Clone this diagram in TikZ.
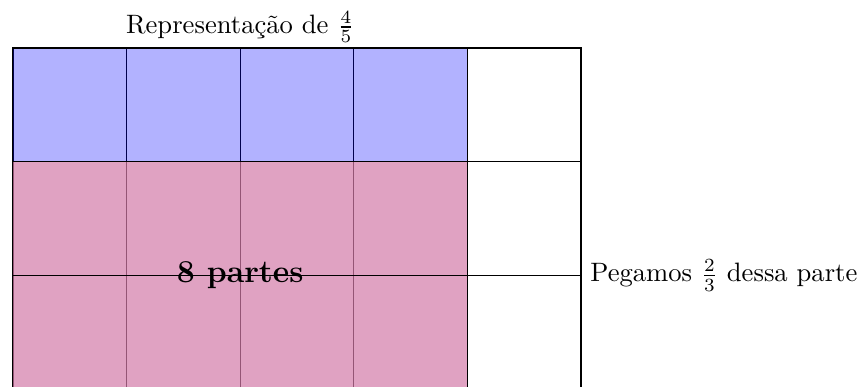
\documentclass[tikz,border=0pt]{standalone}
\definecolor{bluefill}{RGB}{0,0,255}
\definecolor{pinkfill}{RGB}{211,122,168}
\tikzset{
  gridline/.style={line width=0.4pt, black},
  borderline/.style={line width=0.9pt, black},
  label/.style={font=\normalsize}
}
\begin{document}
\begin{tikzpicture}[x=1.5cm,y=1.5cm]
\useasboundingbox (-0.1144,0.0158) rectangle (7.465,3.4225);
% grid and border
\draw[gridline, step=1.5cm] (0,0) grid (5,3);
\draw[borderline] (0,0) rectangle (5,3);
% fills
\fill[bluefill, opacity=0.3] (0,2) rectangle (4,3);
\fill[pinkfill, opacity=0.7] (0,0) rectangle (4,2);
% redraw horizontal lines and top/right border
\draw[gridline] (0,1) -- (5,1);
\draw[gridline] (0,2) -- (5,2);
\draw[borderline] (0,3) -- (5,3) -- (5,0);
% texts
\node[label] (title) at (2,3.185) {Representação de $\frac{4}{5}$};
\node[font=\large\bfseries] (parts) at (2,1) {8 partes};
\node[label, anchor=west] (take) at (5,1) {Pegamos $\frac{2}{3}$ dessa parte};
\end{tikzpicture}
\end{document}
